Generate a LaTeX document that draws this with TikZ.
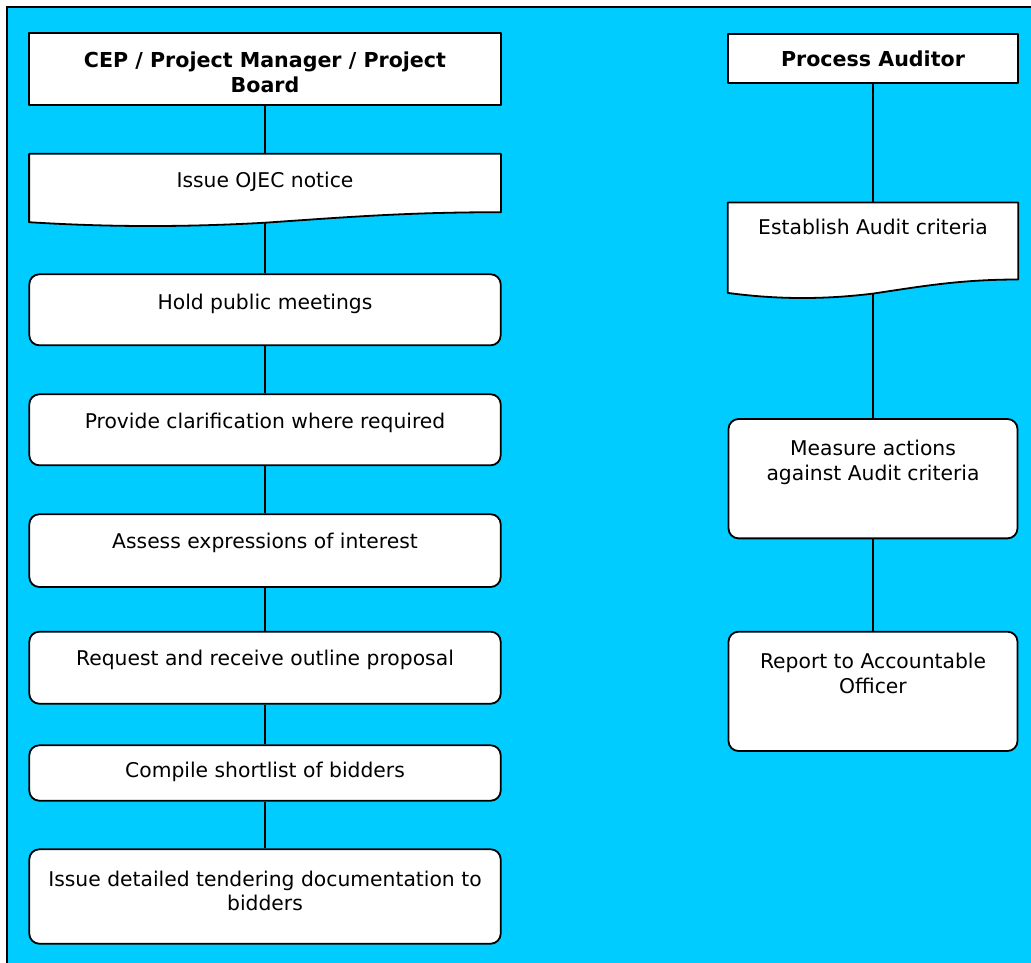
\documentclass[tikz,border=0pt]{standalone}
\usepackage{fontspec}
\setmainfont{DejaVu Sans}
\usetikzlibrary{calc}
\definecolor{bgcyan}{HTML}{00CCFF}
\pgfdeclarelayer{back}
\pgfdeclarelayer{conn}
\pgfsetlayers{back,conn,main}
\newcommand{\docshape}[3]{%
  \path[sqbox] (#1.north west) -- (#1.north east) -- (#1.south east)
    .. controls ($(#1.south east)+(-0.2*#2,0)$) and ($(#1.south east)+(-0.33*#2,0.5*#3)$) .. ($(#1.south east)+(-0.5*#2,1.05*#3)$)
    .. controls ($(#1.south east)+(-0.67*#2,1.5*#3)$) and ($(#1.south east)+(-0.83*#2,1.5*#3)$) .. ($(#1.south west)+(0,#3)$) -- cycle;}
\begin{document}
\begin{tikzpicture}[x=1pt,y=-1pt,
  box/.style={draw=black, line width=1.8pt, fill=white, rounded corners=10pt, inner sep=0pt},
  sqbox/.style={draw=black, line width=1.8pt, fill=white, inner sep=0pt, line join=round},
  docbox/.style={draw=none, inner sep=0pt},
  txt/.style={inner sep=0pt, anchor=north, align=center, font=\fontsize{20.3}{24.5}\selectfont, text=black},
  btxt/.style={inner sep=0pt, anchor=north, align=center, font=\fontsize{20.6}{25}\selectfont\bfseries, text=black},
  conn/.style={draw=black, line width=2pt}]
\useasboundingbox (0,0) rectangle (1031,962);
\begin{pgfonlayer}{back}
  \begin{scope}
    \clip (0,0) rectangle (1031,962);
    \fill[white] (0,0) rectangle (1031,962);
    \draw[fill=bgcyan, line width=2pt] (7,7) rectangle (1045,975);
  \end{scope}
\end{pgfonlayer}

% left column
\node[sqbox, minimum width=471.4pt, minimum height=71.7pt] (title) at (265,69.15) {};
\node[docbox, minimum width=471.4pt, minimum height=58pt] (ojec) at (265,183) {};
\docshape{ojec}{471.4}{10}
\node[box, minimum width=471.4pt, minimum height=71pt] (hold) at (265,309.8) {};
\node[box, minimum width=471.4pt, minimum height=71pt] (prov) at (265,429.8) {};
\node[box, minimum width=471.4pt, minimum height=72.7pt] (assess) at (265,550.6) {};
\node[box, minimum width=471.4pt, minimum height=72pt] (req) at (265,667.7) {};
\node[box, minimum width=471.4pt, minimum height=55.4pt] (comp) at (265,773) {};
\node[box, minimum width=471.4pt, minimum height=94.4pt] (issue) at (265,896.5) {};

% right column
\node[sqbox, minimum width=290pt, minimum height=48.4pt] (pa) at (873,58.5) {};
\node[docbox, minimum width=290pt, minimum height=76.6pt] (est) at (873,241) {};
\docshape{est}{290}{13.4}
\node[box, minimum width=289pt, minimum height=119.3pt] (meas) at (873,478.7) {};
\node[box, minimum width=289pt, minimum height=119.3pt] (rep) at (873,691.35) {};

% texts
\node[btxt] (titlet) at (265,51.7) {CEP / Project Manager / Project\\Board};
\node[txt] (oject) at (265,171.5) {Issue OJEC notice};
\node[txt] (holdt) at (265,293.8) {Hold public meetings};
\node[txt] (provt) at (265,413.1) {Provide clarification where required};
\node[txt] (assesst) at (265,533.1) {Assess expressions of interest};
\node[txt] (reqt) at (265,649.8) {Request and receive outline proposal};
\node[txt] (compt) at (265,762.1) {Compile shortlist of bidders};
\node[txt] (issuet) at (265,870.8) {Issue detailed tendering documentation to\\bidders};
\node[btxt] (pat) at (873,50.4) {Process Auditor};
\node[txt] (estt) at (873,219.1) {Establish Audit criteria};
\node[txt] (meast) at (873,440) {Measure actions\\against Audit criteria};
\node[txt] (rept) at (873,653.1) {Report to Accountable\\Officer};

% connectors
\begin{pgfonlayer}{conn}
  \draw[conn] (title.south) -- (ojec.north);
  \draw[conn] (ojec.south) -- (hold.north);
  \draw[conn] (hold.south) -- (prov.north);
  \draw[conn] (prov.south) -- (assess.north);
  \draw[conn] (assess.south) -- (req.north);
  \draw[conn] (req.south) -- (comp.north);
  \draw[conn] (comp.south) -- (issue.north);
  \draw[conn] (pa.south) -- (est.north);
  \draw[conn] (est.south) -- (meas.north);
  \draw[conn] (meas.south) -- (rep.north);
\end{pgfonlayer}
\end{tikzpicture}
\end{document}
